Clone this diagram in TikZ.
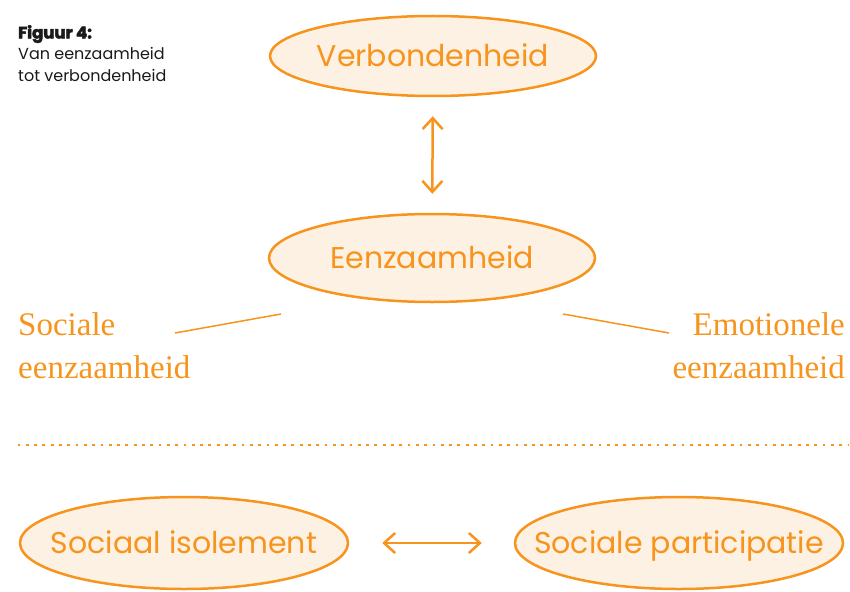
\documentclass[tikz,border=0pt]{standalone}
\usepackage{fontspec}
\setmainfont{Poppins}
\newfontfamily\serifface{Liberation Serif}
\newfontfamily\heavyface[BoldFeatures={FakeBold=3}]{Poppins}
\usetikzlibrary{shapes.geometric,arrows.meta}
\definecolor{orng}{HTML}{F7941D}
\definecolor{orngfill}{HTML}{FDF1E3}
\definecolor{ink}{HTML}{1A1A1A}
\begin{document}
\begin{tikzpicture}[x=1pt,y=-1pt,
  oval/.style={ellipse, draw=orng, fill=orngfill, line width=2.5pt, minimum width=326pt, minimum height=80pt, inner xsep=-40pt, inner ysep=0pt, text height=21pt, text depth=0pt, text=orng, font=\fontsize{30}{34}\selectfont},
  twoway/.style={draw=orng, line width=2.5pt, {Straight Barb[length=11pt,width=20pt,line width=2.5pt]}-{Straight Barb[length=11pt,width=20pt,line width=2.5pt]}},
  kind/.style={text=orng, inner sep=0pt, font=\serifface\fontsize{33}{43}\selectfont},
  tie/.style={draw=orng, line width=1.5pt},
  caption/.style={anchor=north west, inner sep=0pt, align=left, text=ink, font=\fontsize{16}{21.5}\selectfont}]
\useasboundingbox (0,0) rectangle (850,591);
\node[caption] (cap) at (18,25) {{\heavyface\bfseries\fontsize{16.5}{21.5}\selectfont Figuur 4:}\\Van eenzaamheid\\tot verbondenheid};
\node[oval] (verb) at (433,56) {Verbondenheid};
\node[oval, minimum height=88pt] (eenz) at (432,258) {Eenzaamheid};
\node[oval, minimum width=328pt, minimum height=92pt] (iso) at (184,543) {Sociaal isolement};
\node[oval, minimum width=328pt, minimum height=92pt] (part) at (679,543) {Sociale participatie};
\draw[twoway, shorten <=19pt, shorten >=19pt] (verb) -- (eenz);
\draw[twoway, shorten <=33pt, shorten >=32pt] (iso) -- (part);
\node[kind, anchor=north west, align=left] (soc) at (18,312) {Sociale\\eenzaamheid};
\node[kind, anchor=north east, align=right] (emo) at (845,312) {Emotionele\\eenzaamheid};
\coordinate (l1) at (175,333);
\coordinate (l2) at (281,314);
\coordinate (r1) at (563,314);
\coordinate (r2) at (669,333);
\draw[tie] (l1) -- (l2);
\draw[tie] (r1) -- (r2);
\coordinate (d1) at (17.5,445);
\coordinate (d2) at (849,445);
\draw[draw=orng, line width=2.8pt, dash pattern=on 2.8pt off 5.5pt] (d1) -- (d2);
\end{tikzpicture}
\end{document}
